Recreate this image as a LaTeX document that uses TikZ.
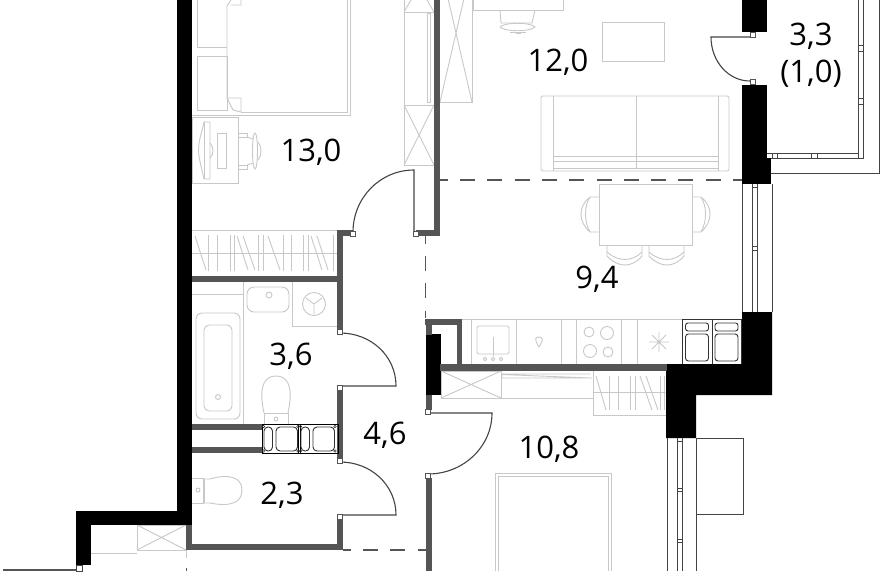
\documentclass[tikz,border=0pt]{standalone}
\usepackage{fontspec}
\setmainfont{Open Sans}
\definecolor{wallg}{HTML}{555555}
\definecolor{furn}{HTML}{C8C8C8}
\definecolor{thin}{HTML}{444444}
\tikzset{
  black wall/.style={fill=black,draw=none},
  grey wall/.style={fill=wallg,draw=none},
  furniture/.style={draw=furn,line width=0.9pt,fill=none},
  fineline/.style={draw=thin,line width=0.9pt,fill=none},
  doorleaf/.style={draw=thin,line width=1.1pt},
  hingebox/.style={draw=wallg,fill=white,line width=0.8pt},
  zonedash/.style={draw=wallg,line width=1.1pt,dash pattern=on 15pt off 12.3pt,dash phase=7.3pt},
  roomlabel/.style={font=\fontsize{31}{36}\selectfont,text=black,inner sep=0pt,align=center},
  shaftline/.style={draw=black!80,line width=0.9pt,fill=none}
}
\newcommand{\hng}[2]{\draw[hingebox] (#1-2.5,#2-2.5) rectangle ++(5,5);}
\begin{document}
\begin{tikzpicture}[x=1pt,y=-1pt]
\useasboundingbox (0,0) rectangle (883,571);
\clip (0,0) rectangle (883,571);
\fill[white] (0,0) rectangle (883,571);

% bedroom 1 bed
\draw[furniture] (192,115) -- (350,115) -- (350,0);
\draw[furniture] (241,112) -- (347.5,112) -- (347.5,0);
\draw[furniture] (197,0) -- (197,47) -- (227,47);
\draw[furniture] (197,56) rectangle (227,110);
\draw[furniture] (227,6) -- (227,98) -- (233,110) -- (241,112) -- (241,98) -- (227,98);
\draw[furniture] (227,6) -- (231,0) (231,5) -- (241,5) -- (241,0);
% desk 1
\draw[furniture] (192,117) rectangle (238,183);
\draw[furniture] (204,122) -- (210,122) -- (210,179) -- (204,179) .. controls (201,165) and (198.5,158) .. (198.5,150) .. controls (198.5,142) and (201,135) .. (204,122) -- cycle;
\draw[furniture] (204,122) -- (204,179);
\draw[furniture] (210,143) .. controls (214,147) and (214,154) .. (210,158);
\draw[furniture] (217,133) rectangle (226,168);
\draw[furniture] (238,133) -- (247,133) -- (247,137) -- (238,137);
\draw[furniture] (238,165) -- (247,165) -- (247,169) -- (238,169);
\draw[furniture] (247,137) -- (253,139) (247,165) -- (253,163);
\draw[furniture] (255,151) ellipse[x radius=2.5,y radius=18];
\draw[furniture] (258,142) .. controls (262,146) and (262,156) .. (258,160);
% wardrobes around bedroom
\draw[furniture] (192,230) -- (337,230);
\draw[furniture] (192,253) -- (337,253);
\foreach \x in {208,217,230,234,258,263,283,291,303,308,333}{\draw[furniture] (\x,235) -- (\x,271);}
\foreach \a/\b in {195/206,237/248,243/255,268/280,311/322,317/328}{\draw[furniture] (\a,236) -- (\b,270);}
\draw[furniture] (404,0) -- (404,165) -- (434,165);
\draw[furniture] (404,12) -- (434,12) (404,105) -- (434,105);
\draw[furniture] (404,105) -- (434,165) (434,105) -- (404,165);
\draw[furniture] (404,12) -- (411,0) (434,12) -- (427,0);
\draw[furniture] (427,13) rectangle (430,102);
\draw[furniture] (440,102) -- (472,102) -- (472,0);
\draw[furniture] (440,102) -- (472,-36) (440,-36) -- (472,102);
% desk 2 + chair
\draw[furniture] (473,0) -- (473,10.5) -- (563,10.5) -- (563,0);
\draw[furniture] (500,10) -- (501,23) -- (532,23) -- (535,10);
\draw[furniture] (500,27) .. controls (505,22) and (530,22) .. (535,27) .. controls (530,32) and (505,32) .. (500,27);
\draw[furniture] (510,32) -- (526,32) (516,33) -- (521,33);
% rug, sofa
\draw[furniture] (602.5,22) rectangle (664.5,61);
\draw[furniture,rounded corners=1.5pt] (541,96) rectangle (729,171);
\draw[furniture] (553,96) -- (553,171) (718,96) -- (718,171);
\draw[furniture] (636,96) -- (636,169);
\draw[furniture] (553,156) -- (718,156) (553,161) -- (718,161) (553,168) -- (718,168);
% table
\draw[furniture] (599,184) rectangle (692,245);
\draw[furniture] (599,197) -- (590,197) .. controls (578,206) and (578,222) .. (590,232) -- (599,232);
\draw[furniture] (590,197) .. controls (584,206) and (584,222) .. (590,232);
\draw[furniture] (692,197) -- (701,197) .. controls (713,206) and (713,222) .. (701,232) -- (692,232);
\draw[furniture] (701,197) .. controls (707,206) and (707,222) .. (701,232);
\draw[furniture] (607,245) -- (607,256) .. controls (618,268) and (632,268) .. (642,256) -- (642,245);
\draw[furniture] (607,252) .. controls (618,262) and (632,262) .. (642,252);
\draw[furniture] (649,245) -- (649,256) .. controls (660,268) and (674,268) .. (684,256) -- (684,245);
\draw[furniture] (649,252) .. controls (660,262) and (674,262) .. (684,252);
% kitchen
\draw[furniture] (462,319) -- (683,319);
\foreach \x in {471,516,561,576,621,637}{\draw[furniture] (\x,319) -- (\x,364);}
\draw[furniture,rounded corners=1.5pt] (477,326) rectangle (509,354);
\draw[furniture] (493,337) -- (493,356);
\draw[furniture] (485,359) circle[radius=1.8] (493,359) circle[radius=1.8] (501,359) circle[radius=1.8];
\draw[furniture] (539,347) .. controls (534,339) and (535,337) .. (539,337) .. controls (543,337) and (544,339) .. (539,347);
\draw[furniture] (589,332) circle[radius=5] (607,333) circle[radius=6.5] (590,351) circle[radius=6.5] (608,352) circle[radius=5];
\draw[furniture] (659,332) -- (659,352) (649,342) -- (669,342) (652,335) -- (666,349) (652,349) -- (666,335);
% fridge shafts
\draw[shaftline] (682.5,319) rectangle (712,364) (712,319) rectangle (741.5,364);
\foreach \x in {682.5,712}{
  \draw[shaftline,rounded corners=2.5pt] (\x+3,323) rectangle (\x+26,331);
  \draw[shaftline,rounded corners=3pt] (\x+3,334) rectangle (\x+26,361);
}
% below kitchen
\draw[furniture] (441,371) rectangle (501,398);
\draw[furniture] (441,371) -- (501,398) (441,398) -- (501,371);
\draw[furniture] (501,398) -- (593,398);
\draw[furniture] (502,378) -- (592,378) (502,374.5) -- (590,378) (502,378) -- (502,374) -- (590,374) ;
\draw[furniture] (593,371) -- (593,415) -- (666,415);
\draw[furniture] (593,392) -- (666,392);
\foreach \x in {609,618,630,635,660,664}{\draw[furniture] (\x,376) -- (\x,410);}
\foreach \a/\b in {596/606,640/652,646/658}{\draw[furniture] (\a,376) -- (\b,410);}
% bed bottom
\draw[furniture] (495,571) -- (495,473) -- (611,473) -- (611,571);
\draw[furniture] (498,571) -- (498,476) -- (608,476) -- (608,571);
% bathroom
\draw[furniture,rounded corners=7pt] (247,287) rectangle (289,312);
\draw[furniture] (269,295) circle[radius=3];
\draw[furniture] (292,282) -- (292,326) -- (337,326);
\draw[furniture] (314,304) circle[radius=11.5];
\draw[furniture] (314,304) -- (314,314) (314,304) -- (306,298) (314,304) -- (322,298);
\draw[furniture] (192,294) -- (243,294);
\draw[furniture] (243,282) -- (243,424);
\draw[furniture,rounded corners=6pt] (196,313) rectangle (240,419);
\draw[furniture,rounded corners=5pt] (204,325) rectangle (232,411);
\draw[furniture] (218,397) circle[radius=2.5];
\draw[furniture] (264,413) .. controls (258,385) and (265,376) .. (276,376) .. controls (287,376) and (294,385) .. (288,413);
\draw[furniture] (264,424) -- (264,413) -- (288,413) -- (288,424);
\draw[furniture] (276,419) circle[radius=2];
% WC
\draw[furniture] (192,478) -- (203,478) -- (203,503) -- (192,503);
\draw[furniture] (203,479) -- (210,479) .. controls (230,473) and (242,478) .. (242,490) .. controls (242,503) and (230,507) .. (210,503) -- (203,503);
\draw[furniture] (204,479) -- (204,503);
\draw[furniture] (198,490) circle[radius=2];
% bottom-left wardrobe
\draw[furniture] (91,553) -- (137,553);
\draw[furniture] (137,525) rectangle (186,550);
\draw[furniture] (137,525) -- (186,550) (137,550) -- (186,525);

% dashed zones
\draw[zonedash] (440,180) -- (742,180);
\draw[zonedash] (425.5,236) -- (425.5,318);
\draw[zonedash] (343,550) -- (426,550);
\draw[furn,line width=0.9pt] (186,550) -- (186,558);
\draw[wallg,line width=0.9pt] (186,568) -- (186,571);

% black walls
\fill[black wall] (177,0) rectangle (192,525);
\fill[black wall] (76,511) rectangle (192,525);
\fill[black wall] (76,511) rectangle (91,565);
\fill[black wall] (742,0) rectangle (767,32);
\fill[black wall] (742,85) rectangle (767,184);
\fill[black wall] (742,158) rectangle (771,184);
\fill[black wall] (426,334) rectangle (441,395);
\fill[black wall] (666,364) -- (742,364) -- (742,312) -- (772,312) -- (772,395) -- (696,395) -- (696,438) -- (666,438) -- cycle;

% grey walls
\fill[grey wall] (186,525) rectangle (192,549);
\fill[grey wall] (186,544) rectangle (343,549.5);
\fill[grey wall] (337,518) rectangle (343,549.5);
\fill[grey wall] (337,230) rectangle (353,236);
\fill[grey wall] (337,230) rectangle (343,330);
\fill[grey wall] (192,276) rectangle (343,282);
\fill[grey wall] (416,230) rectangle (440,236);
\fill[grey wall] (434,0) rectangle (440,236);
\fill[grey wall] (337,388) rectangle (343,460);
\fill[grey wall] (192,424) rectangle (262,430);
\fill[grey wall] (192,447) rectangle (262,453);
\fill[grey wall] (425,319) rectangle (462,325);
\fill[grey wall] (457,319) rectangle (462,370);
\fill[grey wall] (426,319) rectangle (432,335);
\fill[grey wall] (440,364) rectangle (667,371);
\fill[grey wall] (426,395) rectangle (432,410);
\fill[grey wall] (426,478) rectangle (432,571);
\fill[grey wall] (3,569) rectangle (76,571);

% windows and balcony
\draw[fineline] (742,184) -- (742,312) (772,184) -- (772,312) (752,184) -- (752,312) (757,184) -- (757,312);
\draw[fineline] (752,187) -- (757,187) (752,246) -- (757,246) (752,250) -- (757,250);
\draw[fineline] (667,438) -- (667,571) (677,438) -- (677,571) (682,438) -- (682,571) (696.5,438) -- (696.5,571);
\draw[fineline] (677,441) -- (682,441) (677,488) -- (682,488) (677,491) -- (682,491) (677,539) -- (682,539) (677,542) -- (682,542);
\draw[fineline] (696.5,438) -- (743,438) -- (743,514) -- (696.5,514);
\draw[fineline] (879,0) -- (879,173) -- (771,173);
\draw[fineline] (858,0) -- (858,153) -- (767,153) (863.5,0) -- (863.5,158) -- (771,158);
\draw[fineline] (858,45) -- (863.5,45) (858,51) -- (863.5,51) (858,98) -- (863.5,98) (858,104) -- (863.5,104);
\draw[fineline] (772,153) -- (772,158) (777,153) -- (777,158) (811,153) -- (811,158) (817,153) -- (817,158) (858,153) -- (858,158);
\draw[fineline] (76,565) rectangle (82,571);

% shaft in bathroom
\draw[draw=black,line width=1pt] (262,424.5) rectangle (338,453) (298,424.5) -- (298,453) (300,424.5) -- (300,453);
\foreach \x in {262,299}{
  \draw[shaftline,rounded corners=4pt] (\x+2,427) rectangle (\x+10.5,451);
  \draw[shaftline,rounded corners=4pt] (\x+14,427) rectangle (\x+35.5,451);
  \foreach \cx in {\x+1.5,\x+36}{\foreach \cy in {426.5,451}{\draw[shaftline,line width=0.6pt] (\cx,\cy) circle[radius=1.3];}}
}

% doors
\draw[doorleaf] (414,232) -- (414,170) .. controls (380,170) and (353,198) .. (353,232);
\draw[doorleaf] (340,386) -- (396,386) .. controls (396,356) and (371,333) .. (340,333);
\draw[doorleaf] (340,515) -- (396,515) .. controls (396,485) and (371,462) .. (340,462);
\draw[doorleaf] (428,413) -- (492,413) .. controls (492,447) and (463,474) .. (428,474);
\draw[doorleaf] (750,37) -- (711,37) .. controls (711,61) and (728,81) .. (750,81);
\hng{353}{234}\hng{416}{234}
\hng{340}{332}\hng{340}{388}\hng{340}{461}\hng{340}{517}
\hng{428}{412}\hng{428}{476}
\hng{753}{34.5}\hng{753}{82}

% labels
\node[roomlabel] (r130) at (311,152.5) {13,0};
\node[roomlabel] (r120) at (558,62.5) {12,0};
\node[roomlabel] (r33) at (811,36.5) {3,3};
\node[roomlabel] (r10) at (811,73.5) {(1,0)};
\node[roomlabel] (r94) at (597,279.5) {9,4};
\node[roomlabel] (r36) at (291,356.5) {3,6};
\node[roomlabel] (r46) at (385,435.5) {4,6};
\node[roomlabel] (r23) at (282,495.5) {2,3};
\node[roomlabel] (r108) at (549,449.5) {10,8};
\end{tikzpicture}
\end{document}
